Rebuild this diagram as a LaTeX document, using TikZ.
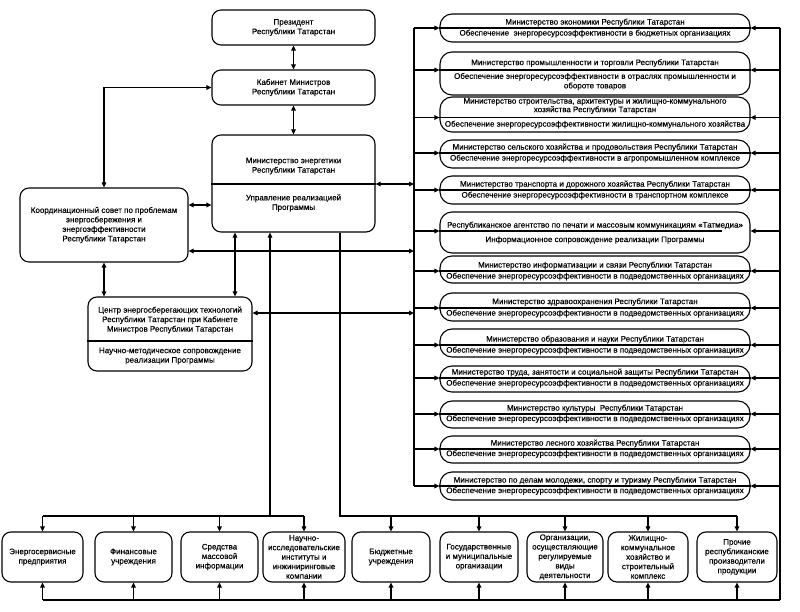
\documentclass[tikz,border=0pt]{standalone}
\usepackage{fontspec}
\setmainfont{Liberation Sans}[FakeBold=0.35]
\usetikzlibrary{arrows.meta,fit}
\newcommand\fs{\fontsize{8}{9.5}\selectfont}
\newcommand\mkrbox[8]{%
  \node[rbox, fit={(440,#2) (750,#3)}] (#1) {};
  \draw[con] (#1.west |- 0,#4) -- (#1.east |- 0,#4);
  \node[txt] (#1t) at (595,#5) {#7};
  \node[txt] (#1s) at (595,#6) {#8};
  \coordinate (#1l) at (#1.west |- 0,#4);
  \coordinate (#1r) at (#1.east |- 0,#4);
  \draw[arr] (lbusT |- #1l) -- (#1l);
  \draw[arr] (rbusT |- #1r) -- (#1r);
}
\tikzset{
  con/.style={line width=1.1pt},
  box/.style={draw, line width=1.1pt, rounded corners=9pt, fill=white, align=center, inner sep=0pt, font=\fs},
  rbox/.style={draw, line width=1.1pt, rounded corners=12pt, inner sep=0pt},
  txt/.style={align=center, inner sep=0pt, font=\fs},
  arr/.style={con, -{Triangle[length=5pt,width=4.5pt]}},
  darr/.style={con, {Triangle[length=5pt,width=4.5pt]}-{Triangle[length=5pt,width=4.5pt]}},
}
\begin{document}
\begin{tikzpicture}[x=1pt,y=-1pt]
\useasboundingbox (0,0) rectangle (800,612);
\fill[white] (0,0) rectangle (800,612);

% buses
\coordinate (lbusT) at (414,28);
\coordinate (lbusB) at (414,486);
\coordinate (rbusT) at (780,28);
\coordinate (rbusB) at (780,600);
\draw[con] (lbusT) -- (lbusB);
\draw[con] (rbusT) -- (rbusB);

% top boxes
\node[box, minimum width=163pt, minimum height=35pt] (pres) at (293.5,27.5) {Президент\\Республики Татарстан};
\node[box, minimum width=163pt, minimum height=35pt] (cab) at (293.5,87.5) {Кабинет Министров\\Республики Татарстан};
\node[box, fit={(212,135) (375,232)}] (min) {};
\draw[con] (min.west |- 0,184) -- (min.east |- 0,184);
\node[txt] (mint) at (293.5,166) {Министерство энергетики\\Республики Татарстан};
\node[txt] (mins) at (293.5,203) {Управление реализацией\\Программы};

\node[box, minimum width=168pt, minimum height=74pt] (coun) at (104,225) {Координационный совет по проблемам\\энергосбережения и\\энергоэффективности\\Республики Татарстан};

\node[box, fit={(88,297) (252,371)}] (cen) {};
\draw[con] (cen.west |- 0,341) -- (cen.east |- 0,341);
\node[txt] (cent) at (170,320) {Центр энергосберегающих технологий\\Республики Татарстан при Кабинете\\Министров Республики Татарстан};
\node[txt] (cens) at (170,356) {Научно-методическое сопровождение\\реализации Программы};

% top connectors
\draw[darr] (pres.south) -- (cab.north);
\draw[darr] (cab.south) -- (min.north);
\draw[darr] (coun.north) |- (cab.west);
\draw[darr] (coun.east |- 0,205) -- (min.west |- 0,205);
\draw[darr] (coun.east |- 0,251) -- (lbusT |- 0,251);
\draw[darr] (min.east |- 0,184) -- (lbusT |- 0,184);
\draw[darr] (coun.south) -- (coun.south |- cen.north);
\draw[darr] (min.south -| 235,0) -- (cen.north -| 235,0);
\draw[darr] (cen.east |- 0,313) -- (lbusT |- 0,313);

% right boxes
\mkrbox{r1}{14}{42}{28}{22.5}{33.5}{Министерство экономики Республики Татарстан}{Обеспечение\ \ энергоресурсоэффективности в бюджетных организациях}
\mkrbox{r2}{52}{95}{70}{63}{81.5}{Министерство промышленности и торговли Республики Татарстан}{Обеспечение энергоресурсоэффективности в отраслях промышленности и\\обороте товаров}
\mkrbox{r3}{97}{132}{117.5}{106}{124.5}{Министерство строительства, архитектуры и жилищно-коммунального\\[-1pt]хозяйства Республики Татарстан}{Обеспечение энергоресурсоэффективности жилищно-коммунального хозяйства}
\mkrbox{r4}{140}{168}{153}{147.5}{158.5}{Министерство сельского хозяйства и продовольствия Республики Татарстан}{Обеспечение энергоресурсоэффективности в агропромышленном комплексе}
\mkrbox{r5}{176}{204}{190}{184.5}{195.5}{Министерство транспорта и дорожного хозяйства Республики Татарстан}{Обеспечение энергоресурсоэффективности в транспортном комплексе}
% r6 with partial line
\node[rbox, fit={(440,212) (750,253)}] (r6) {};
\draw[con] (r6.west |- 0,231) -- (722,231);
\node[txt] (r6t) at (595,225.5) {Республиканское агентство по печати и массовым коммуникациям «Татмедиа»};
\node[txt] (r6s) at (595,240) {Информационное сопровождение реализации Программы};
\coordinate (r6l) at (r6.west |- 0,231);
\coordinate (r6r) at (r6.east |- 0,231);
\draw[arr] (lbusT |- r6l) -- (r6l);
\draw[arr] (rbusT |- r6r) -- (r6r);
\mkrbox{r7}{256}{283}{271}{265.5}{276.5}{Министерство информатизации и связи Республики Татарстан}{Обеспечение энергоресурсоэффективности в подведомственных организациях}
\mkrbox{r8}{293}{321}{308}{302}{313.5}{Министерство здравоохранения Республики Татарстан}{Обеспечение энергоресурсоэффективности в подведомственных организациях}
\mkrbox{r9}{329}{357}{345}{339.5}{350.5}{Министерство образования и науки Республики Татарстан}{Обеспечение энергоресурсоэффективности в подведомственных организациях}
\mkrbox{r10}{366}{392}{378}{372.5}{383.5}{Министерство труда, занятости и социальной защиты Республики Татарстан}{Обеспечение энергоресурсоэффективности в подведомственных организациях}
\mkrbox{r11}{401}{428}{414}{408.5}{419}{Министерство культуры\ \ Республики Татарстан}{Обеспечение энергоресурсоэффективности в подведомственных организациях}
\mkrbox{r12}{436}{463}{449}{443.5}{454}{Министерство лесного хозяйства Республики Татарстан}{Обеспечение энергоресурсоэффективности в подведомственных организациях}
\mkrbox{r13}{472}{500}{486}{480.5}{491}{Министерство по делам молодежи, спорту и туризму Республики Татарстан}{Обеспечение энергоресурсоэффективности в подведомственных организациях}

% bottom boxes
\node[box, minimum width=81pt, minimum height=50pt] (b1) at (42.5,557) {Энергосервисные\\предприятия};
\node[box, minimum width=77pt, minimum height=50pt] (b2) at (133.5,557) {Финансовые\\учреждения};
\node[box, minimum width=77pt, minimum height=50pt] (b3) at (219.5,557) {Средства\\массовой\\информации};
\node[box, minimum width=82pt, minimum height=50pt] (b4) at (304,557) {Научно-\\исследовательские\\институты и\\инжиниринговые\\компании};
\node[box, minimum width=78pt, minimum height=50pt] (b5) at (391,557) {Бюджетные\\учреждения};
\node[box, minimum width=78pt, minimum height=50pt] (b6) at (479,557) {Государственные\\и муниципальные\\организации};
\node[box, minimum width=76pt, minimum height=50pt] (b7) at (565,557) {Организации,\\осуществляющие\\регулируемые\\виды\\деятельности};
\node[box, minimum width=80pt, minimum height=50pt] (b8) at (648,557) {Жилищно-\\коммунальное\\хозяйство и\\строительный\\комплекс};
\node[box, minimum width=80pt, minimum height=50pt] (b9) at (737,557) {Прочие\\республиканские\\производители\\продукции};

% bottom connectors
\coordinate (lgrp) at (270,516);
\coordinate (rgrp) at (340,516);
\draw[arr] (lgrp) -- (min.south -| lgrp);
\draw[con] (b1.north |- lgrp) -- (b4.north |- lgrp);
\draw[con] (min.south -| rgrp) -- (rgrp) -- (b9.north |- rgrp);
\foreach \b in {b1,b2,b3,b4} { \draw[arr] (\b.north |- lgrp) -- (\b.north); }
\foreach \b in {b5,b6,b7,b8,b9} { \draw[arr] (\b.north |- rgrp) -- (\b.north); }
\draw[con] (b1.south |- rbusB) -- (rbusB);
\foreach \b in {b1,b2,b3,b4,b5,b6,b7,b8,b9} { \draw[arr] (\b.south |- rbusB) -- (\b.south); }
\end{tikzpicture}
\end{document}
